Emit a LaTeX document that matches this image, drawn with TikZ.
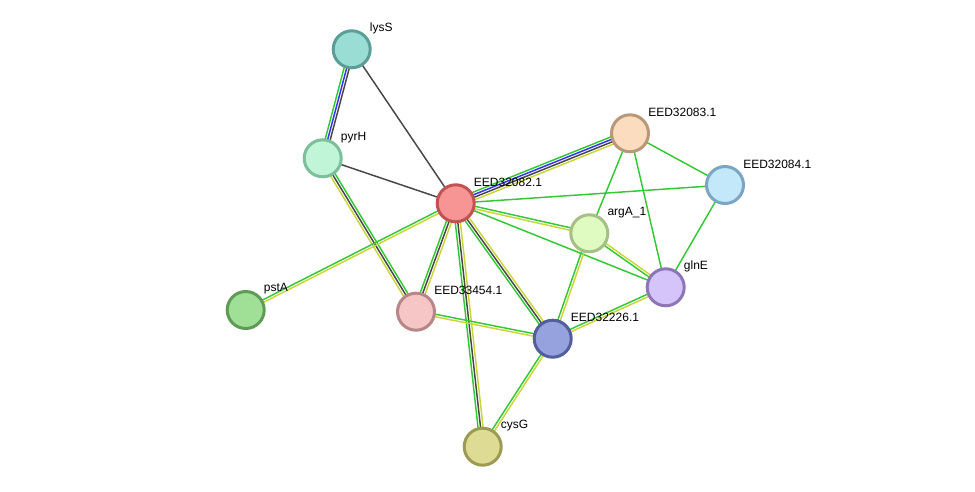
\documentclass[tikz,border=0pt]{standalone}
\usepackage{fontspec}
\setmainfont{Liberation Sans}
\usepackage{tikz}
\usetikzlibrary{calc,backgrounds}

\definecolor{egreen}{RGB}{52,200,52}
\definecolor{eblue}{RGB}{50,50,245}
\definecolor{eblack}{RGB}{70,70,70}
\definecolor{eyellow}{RGB}{200,214,58}
% protein fill / border colours
\definecolor{lysSfill}{RGB}{153,221,213}  \definecolor{lysSline}{RGB}{90,158,151}
\definecolor{pyrHfill}{RGB}{192,245,216}  \definecolor{pyrHline}{RGB}{125,191,154}
\definecolor{redfill}{RGB}{247,149,149}   \definecolor{redline}{RGB}{192,82,82}
\definecolor{peachfill}{RGB}{251,220,191} \definecolor{peachline}{RGB}{184,152,120}
\definecolor{skyfill}{RGB}{194,232,250}   \definecolor{skyline}{RGB}{123,165,194}
\definecolor{limefill}{RGB}{224,251,194}  \definecolor{limeline}{RGB}{166,191,134}
\definecolor{lilacfill}{RGB}{213,196,250} \definecolor{lilacline}{RGB}{142,117,184}
\definecolor{leaffill}{RGB}{159,223,150}  \definecolor{leafline}{RGB}{94,156,86}
\definecolor{pinkfill}{RGB}{246,198,198}  \definecolor{pinkline}{RGB}{183,135,135}
\definecolor{navyfill}{RGB}{150,162,222}  \definecolor{navyline}{RGB}{83,94,156}
\definecolor{olivefill}{RGB}{222,219,148} \definecolor{oliveline}{RGB}{157,154,86}

% one connector = several parallel coloured lines
\newcommand{\netlink}[3]{%
  \foreach \c [count=\i] in {#3} {\xdef\nlines{\i}}%
  \foreach \c [count=\i] in {#3} {%
    \pgfmathsetmacro{\off}{((\nlines+1)/2-\i)*1.9}%
    \draw[edge,draw=\c] ($(#1.center)!\off pt!90:(#2.center)$) -- ($(#2.center)!\off pt!-90:(#1.center)$);
  }%
}

\begin{document}
\begin{tikzpicture}[
  x=0.75pt,y=-0.75pt,
  font=\fontsize{9}{10}\selectfont,
  prot/.style={circle,draw=#1line,fill=#1fill,line width=2.25pt,minimum size=27.75pt,inner sep=0pt},
  tag/.style={label={[inner sep=0pt,label distance=0pt,xshift=-1.5pt,yshift=15.75pt]0:#1}},
  edge/.style={line width=1.1pt}
]
\useasboundingbox (0,0) rectangle (975,492);
% proteins
\node[prot=lysS,tag=lysS] (lysS) at (351.7,49.3) {};
\node[prot=pyrH,tag=pyrH] (pyrH) at (322.7,158.3) {};
\node[prot=red,tag=EED32082.1] (n82) at (455.7,203.3) {};
\node[prot=peach,tag=EED32083.1] (n83) at (630,133.3) {};
\node[prot=sky,tag=EED32084.1] (n84) at (725,185) {};
\node[prot=lime,tag=argA\_1] (argA) at (589.3,233.3) {};
\node[prot=lilac,tag=glnE] (glnE) at (665.7,287.3) {};
\node[prot=leaf,tag=pstA] (pstA) at (245.7,310) {};
\node[prot=pink,tag=EED33454.1] (n454) at (416,311.7) {};
\node[prot=navy,tag=EED32226.1] (n226) at (552.7,338.7) {};
\node[prot=olive,tag=cysG] (cysG) at (482.7,446.7) {};
% links
\begin{scope}[on background layer]
\netlink{pyrH}{lysS}{egreen,eblue,eblack}
\netlink{lysS}{n82}{eblack}
\netlink{pyrH}{n82}{eblack}
\netlink{pyrH}{n454}{egreen,eblack,eyellow}
\netlink{n82}{n83}{egreen,eblue,eblack,eyellow}
\netlink{n82}{n84}{egreen}
\netlink{n82}{argA}{egreen,eyellow}
\netlink{n82}{glnE}{egreen}
\netlink{pstA}{n82}{egreen,eyellow}
\netlink{n454}{n82}{egreen,eblack,eyellow}
\netlink{n226}{n82}{egreen,eblack,eyellow}
\netlink{cysG}{n82}{egreen,eblack,eyellow}
\netlink{n83}{n84}{egreen}
\netlink{n83}{argA}{egreen}
\netlink{n83}{glnE}{egreen}
\netlink{n84}{glnE}{egreen}
\netlink{glnE}{argA}{egreen,eyellow}
\netlink{n226}{argA}{egreen,eyellow}
\netlink{n226}{glnE}{egreen,eyellow}
\netlink{n454}{n226}{egreen,eyellow}
\netlink{cysG}{n226}{egreen,eyellow}
\end{scope}
\end{tikzpicture}
\end{document}
